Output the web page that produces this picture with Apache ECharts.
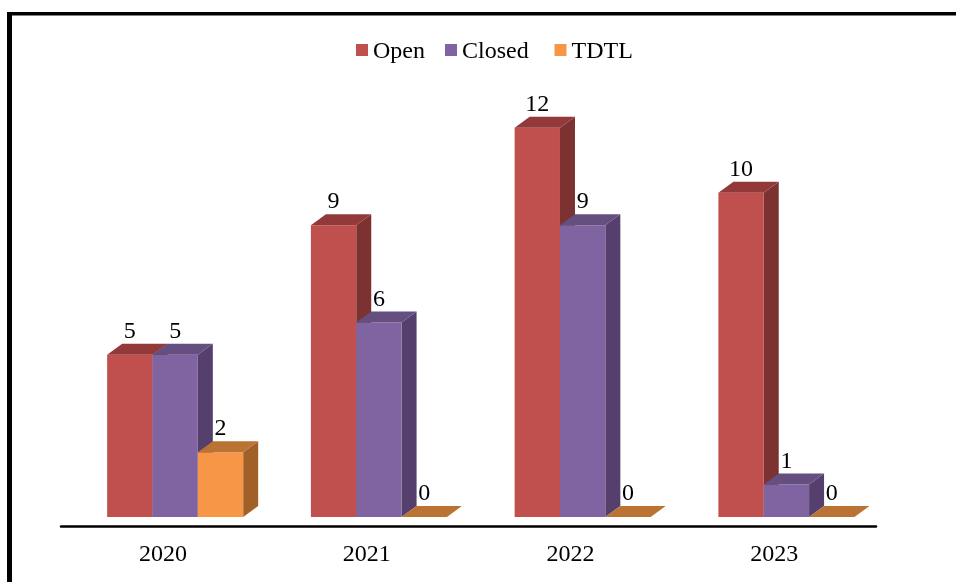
<!DOCTYPE html>
<html><head><meta charset="utf-8">
<style>html,body{margin:0;padding:0;background:#fff}#c{width:956px;height:582px}</style>
<script src="https://cdn.jsdelivr.net/npm/echarts@6/dist/echarts.min.js"></script>
</head><body><div id="c"></div>
<script>
const categories = ['2020','2021','2022','2023'];
const openValues = [5,9,12,10];
const closedValues = [5,6,9,1];
const tdtlValues = [2,0,0,0];

const FONT = '"Liberation Serif", "Times New Roman", serif';
const BAR_FRAC = 45.4/204, SHIFT_FRAC = 12.3/204, DX = 15, DY = 11;

function barRenderer(idx, front, top, side){
  return function(params, api){
    const c = api.coord([api.value(0), api.value(1)]);
    const b = api.coord([api.value(0), 0]);
    const band = api.size([1,0])[0];
    const w = band*BAR_FRAC;
    const x0 = c[0] + band*SHIFT_FRAC + (idx-1.5)*w;
    const x1 = x0 + w, yT = c[1], yB = b[1];
    const kids = [];
    if (yB - yT > 0.5){
      kids.push({type:'polygon',shape:{points:[[x1,yT],[x1+DX,yT-DY],[x1+DX,yB-DY],[x1,yB]]},style:{fill:side}});
      kids.push({type:'rect',shape:{x:x0,y:yT,width:w,height:yB-yT},style:{fill:front}});
    }
    kids.push({type:'polygon',shape:{points:[[x0,yT],[x0+DX,yT-DY],[x1+DX,yT-DY],[x1,yT]]},style:{fill:top}});
    kids.push({type:'text',z2:10,style:{text:String(api.value(1)),x:x0+w/2,y:yT-23,align:'center',verticalAlign:'middle',font:'24px '+FONT,fill:'#000'}});
    return {type:'group',children:kids};
  };
}
function mk(name, values, idx, front, top, side){
  return {type:'custom',name,coordinateSystem:'cartesian2d',itemStyle:{color:front},
    encode:{x:0,y:1},clip:false,
    data:values.map((v,i)=>[i,v]),
    renderItem:barRenderer(idx,front,top,side)};
}
function lg(name,left){
  return {data:[name],left,top:40,padding:0,itemWidth:12,itemHeight:12,icon:'rect',
    formatter:'{t|{name}}',
    textStyle:{rich:{t:{fontFamily:FONT,fontSize:24,color:'#000',padding:[4,0,0,0]}}}};
}
const chart = echarts.init(document.getElementById('c'),null,{renderer:'canvas'});
chart.setOption({
  animation:false,
  backgroundColor:'#fff',
  legend:[lg('Open',356),lg('Closed',445),lg('TDTL',554.5)],
  grid:{left:61,right:80,top:63,bottom:65,containLabel:false},
  xAxis:{type:'category',data:categories,offset:9,
    axisLine:{onZero:false,lineStyle:{color:'#000',width:2.5}},axisTick:{show:false},
    axisLabel:{fontFamily:FONT,fontSize:24,color:'#000',margin:17},splitLine:{show:false}},
  yAxis:{type:'value',min:0,max:14,interval:2,show:false,splitLine:{show:false}},
  graphic:[
    {type:'rect',z:100,shape:{x:7,y:12,width:949,height:3.5},style:{fill:'#000'}},
    {type:'rect',z:100,shape:{x:7,y:12,width:5,height:570},style:{fill:'#000'}}
  ],
  series:[
    mk('Open',openValues,0,'#C0504D','#93393A','#7C3230'),
    mk('Closed',closedValues,1,'#8064A2','#644F80','#543F6D'),
    mk('TDTL',tdtlValues,2,'#F79646','#BA7332','#A06028')
  ]
});
</script></body></html>
